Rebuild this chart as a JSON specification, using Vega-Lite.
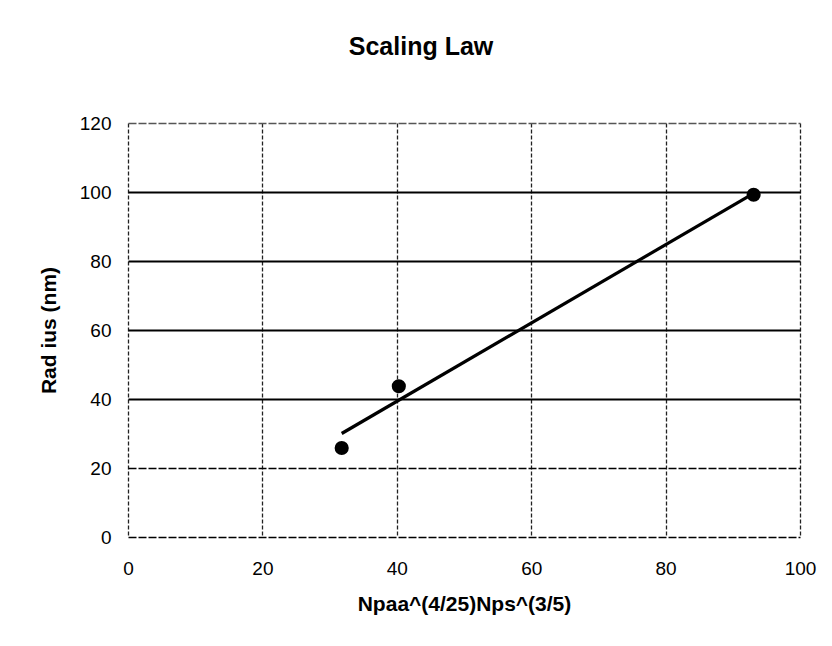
{
  "$schema": "https://vega.github.io/schema/vega-lite/v6.json",
  "width": 672,
  "height": 414,
  "autosize": "none",
  "padding": {"left": 128, "top": 123, "right": 32, "bottom": 109},
  "background": "white",
  "title": {
    "text": "Scaling Law",
    "font": "Liberation Sans",
    "fontSize": 25,
    "fontWeight": "bold",
    "color": "black",
    "anchor": "middle",
    "offset": 54,
    "dx": -43
  },
  "config": {
    "view": {"stroke": null},
    "axis": {
      "labelFont": "Liberation Sans",
      "labelFontSize": 19,
      "labelColor": "black",
      "titleFont": "Liberation Sans",
      "titleFontSize": 21,
      "titleFontWeight": "bold",
      "titleColor": "black",
      "domain": false,
      "ticks": false,
      "labelFlush": false
    }
  },
  "datasets": {
    "points": [
      {"x": 31.8, "y": 25.8},
      {"x": 40.3, "y": 43.7},
      {"x": 93.1, "y": 99.2}
    ],
    "trend": [
      {"x": 31.8, "y": 30.0},
      {"x": 93.1, "y": 99.6}
    ]
  },
  "layer": [
    {
      "data": {"name": "trend"},
      "mark": {"type": "line", "color": "black", "strokeWidth": 3.2},
      "encoding": {
        "x": {
          "field": "x",
          "type": "quantitative",
          "scale": {"domain": [0, 100], "nice": false},
          "axis": {
            "title": "Npaa^(4/25)Nps^(3/5)",
            "values": [0, 20, 40, 60, 80, 100],
            "labelPadding": 22,
            "titlePadding": 15,
            "grid": true,
            "gridColor": "#222222",
            "gridWidth": 1.3,
            "gridDash": [4, 2]
          }
        },
        "y": {
          "field": "y",
          "type": "quantitative",
          "scale": {"domain": [0, 120], "nice": false},
          "axis": {
            "title": "Rad ius (nm)",
            "values": [0, 20, 40, 60, 80, 100, 120],
            "labelPadding": 17,
            "titlePadding": 20,
            "grid": true,
            "gridColor": {"condition": {"test": "datum.value == 120", "value": "#555555"}, "value": "black"},
            "gridWidth": {"condition": {"test": "datum.value == 0 || datum.value == 20 || datum.value == 120", "value": 1.3}, "value": 2},
            "gridDash": {"condition": {"test": "datum.value == 0 || datum.value == 20 || datum.value == 120", "value": [8, 2]}, "value": []}
          }
        }
      }
    },
    {
      "data": {"name": "points"},
      "mark": {"type": "circle", "color": "black", "opacity": 1, "size": 200},
      "encoding": {
        "x": {"field": "x", "type": "quantitative"},
        "y": {"field": "y", "type": "quantitative"}
      }
    }
  ]
}
